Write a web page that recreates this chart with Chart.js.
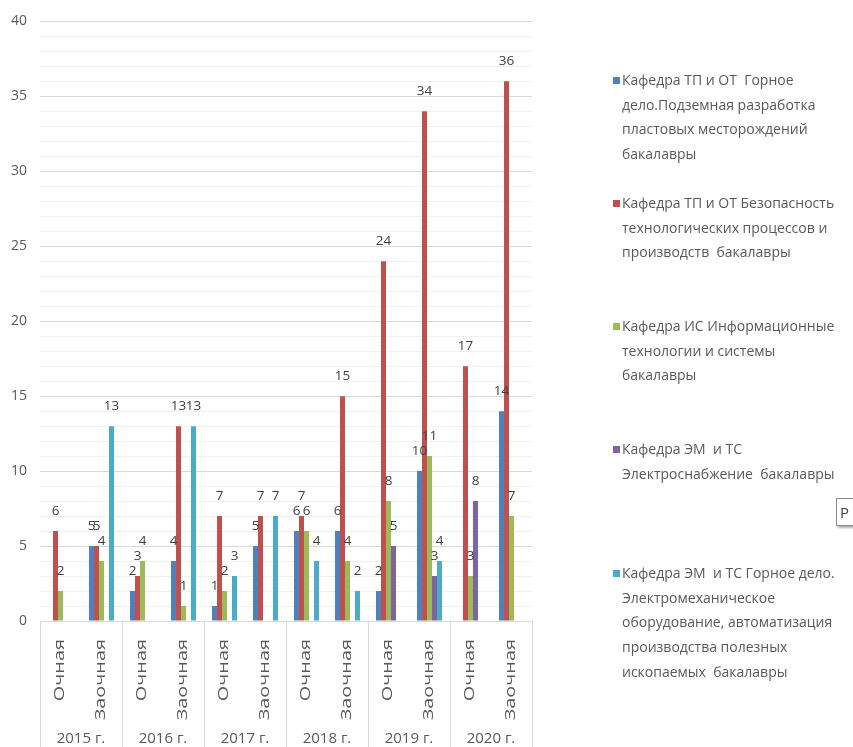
<!DOCTYPE html>
<html>
<head>
<meta charset="utf-8">
<script src="https://cdn.jsdelivr.net/npm/chart.js@4"></script>
<style>
 body{margin:0;background:#fff;}
 #wrap{position:relative;width:853px;height:747px;overflow:hidden;font-family:"Open Sans",sans-serif;}
 #legend{position:absolute;left:0;top:0;}
 .item{position:absolute;left:613px;font-size:14px;line-height:24.7px;color:#595959;white-space:pre;}
 .item i{position:absolute;left:0;top:9px;width:7px;height:7px;}
 .item span{display:block;margin-left:9px;}
 #tip{position:absolute;left:836px;top:498px;width:30px;height:26px;border:1px solid #8a8a8a;background:#fff;
  box-shadow:2px 2px 2px #b0b0b0;font-size:15px;color:#404040;line-height:26px;padding-left:3px;}
</style>
</head>
<body>
<div id="wrap">
 <canvas id="c" width="853" height="747"></canvas>
 <div id="legend"></div>
 <div id="tip">Р</div>
</div>
<script>
const forms=['Очная','Заочная','Очная','Заочная','Очная','Заочная','Очная','Заочная','Очная','Заочная','Очная','Заочная'];
const years=['2015 г.','2016 г.','2017 г.','2018 г.','2019 г.','2020 г.'];

const names=[
 'Кафедра ТП и ОТ  Горное\nдело.Подземная разработка\nпластовых месторождений\nбакалавры',
 'Кафедра ТП и ОТ Безопасность\nтехнологических процессов и\nпроизводств  бакалавры',
 'Кафедра ИС Информационные\nтехнологии и системы\nбакалавры',
 'Кафедра ЭМ  и ТС\nЭлектроснабжение  бакалавры',
 'Кафедра ЭМ  и ТС Горное дело.\nЭлектромеханическое\nоборудование, автоматизация\nпроизводства полезных\nископаемых  бакалавры'
];
const gornoe=[null,5,2,4,1,5,6,6,2,10,null,14];
const bezop=[6,5,3,13,7,7,7,15,24,34,17,36];
const infoSys=[2,4,4,1,2,null,6,4,8,11,3,7];
const electro=[null,null,null,null,null,null,null,null,5,3,8,null];
const electroMech=[null,13,null,13,3,7,4,2,null,4,null,null];

const colors=['#4F81BD','#C0504D','#9BBB59','#8064A2','#4BACC6'];
const series=[gornoe,bezop,infoSys,electro,electroMech];
const legendTops=[68,191,314,437,561];

const FONT='"Open Sans", sans-serif';
const TXT='#595959';

const valueLabels={
 id:'valueLabels',
 afterDatasetsDraw(chart){
  const c=chart.ctx;
  c.save();
  c.font='13.5px '+FONT;
  c.fillStyle='#404040';
  c.textAlign='center';
  c.textBaseline='middle';
  chart.data.datasets.forEach((ds,i)=>{
   chart.getDatasetMeta(i).data.forEach((el,j)=>{
    const v=ds.data[j];
    if(v===null) return;
    c.fillText(String(v),el.x,el.y-20);
   });
  });
  c.restore();
 }
};

// separators between years + stretched vertical form labels (like the original)
const axisDecor={
 id:'axisDecor',
 afterDraw(chart){
  const x=chart.scales.x, c=chart.ctx;
  const step=(x.right-x.left)/years.length;
  c.save();
  c.strokeStyle='#d9d9d9';
  c.lineWidth=1;
  for(let k=0;k<=years.length;k++){
   const px=Math.round(x.left+k*step)+0.5;
   c.beginPath();
   c.moveTo(px,chart.chartArea.bottom);
   c.lineTo(px,chart.height);
   c.stroke();
  }
  c.fillStyle=TXT;
  c.font='14px '+FONT;
  c.textAlign='right';
  c.textBaseline='middle';
  forms.forEach((f,i)=>{
   c.save();
   c.translate(x.getPixelForTick(i),chart.chartArea.bottom+18);
   c.rotate(-Math.PI/2);
   c.scale(1.42,1);
   c.fillText(f,0,0);
   c.restore();
  });
  c.restore();
 }
};

new Chart(document.getElementById('c'),{
 type:'bar',
 data:{
  labels:forms,
  datasets:series.map((d,i)=>({
   label:names[i].replace(/\n/g,' '),
   data:d,
   backgroundColor:colors[i],
   categoryPercentage:0.61,
   barPercentage:1
  }))
 },
 options:{
  responsive:false,
  animation:false,
  layout:{padding:{top:21,right:321,left:0,bottom:0}},
  plugins:{legend:{display:false},tooltip:{enabled:false}},
  scales:{
   y:{
    min:0,max:40,
    border:{display:false},
    grid:{drawTicks:false,color:ctx=>ctx.tick && ctx.tick.value%5===0?'#d9d9d9':'#f0f0f0'},
    ticks:{stepSize:1,autoSkip:false,padding:13,color:TXT,font:{family:FONT,size:14},
     callback:v=>v%5===0?v:''},
    afterFit:s=>{s.width=40;}
   },
   x:{
    weight:0,
    grid:{display:false},
    border:{display:true,color:'#d9d9d9'},
    ticks:{autoSkip:false,minRotation:90,maxRotation:90,padding:16,color:'rgba(0,0,0,0)',font:{family:FONT,size:14}},
    afterFit:s=>{s.height=100;}
   },
   x2:{
    type:'category',
    labels:years,
    position:'bottom',
    offset:true,
    weight:1,
    grid:{display:false},
    border:{display:false},
    ticks:{padding:1,maxRotation:0,color:TXT,font:{family:FONT,size:15}},
    afterFit:s=>{s.height=26;}
   }
  }
 },
 plugins:[valueLabels,axisDecor]
});

const lg=document.getElementById('legend');
names.forEach((n,i)=>{
 const d=document.createElement('div');
 d.className='item';
 d.style.top=legendTops[i]+'px';
 const sw=document.createElement('i');
 sw.style.background=colors[i];
 const sp=document.createElement('span');
 sp.textContent=n;
 d.appendChild(sw);d.appendChild(sp);
 lg.appendChild(d);
});
</script>
</body>
</html>
